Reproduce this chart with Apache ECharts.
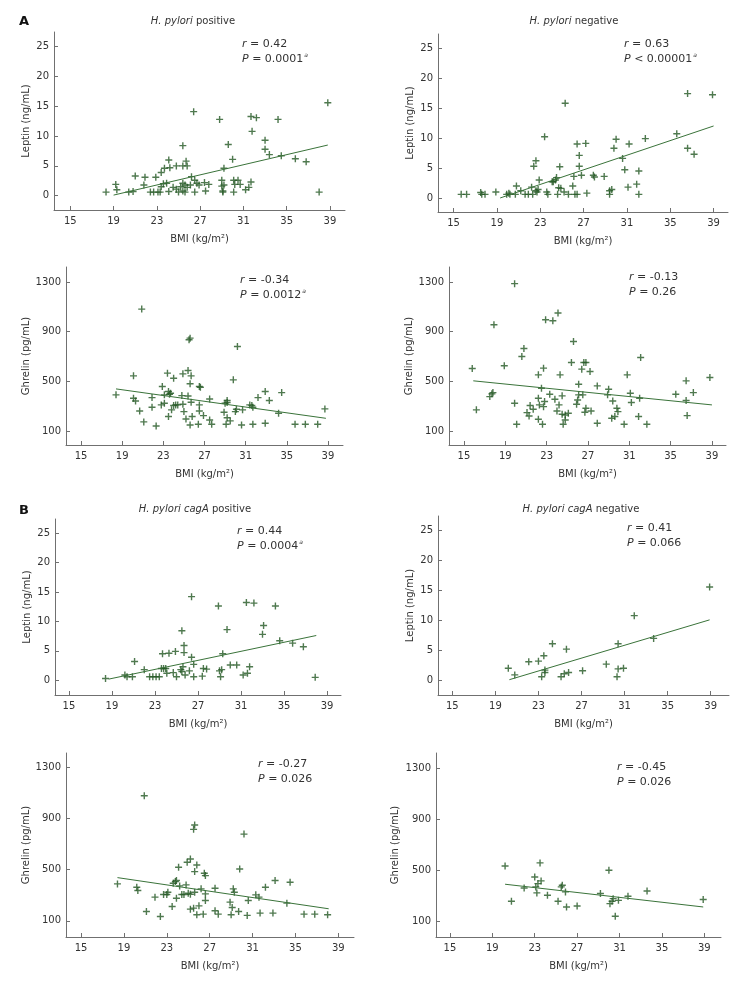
<!DOCTYPE html>
<html><head><meta charset="utf-8">
<script src="https://cdn.jsdelivr.net/npm/echarts@6/dist/echarts.min.js"></script>
<style>html,body{margin:0;padding:0;background:#fff}#c{width:752px;height:986px}</style>
</head><body><div id="c"></div>
<script>
// ---- tick labels ----
const bmiTicks = [15, 19, 23, 27, 31, 35, 39];
const leptinTicks = [0, 5, 10, 15, 20, 25];
const ghrelinTicks = [100, 500, 900, 1300];

// ---- panel texts ----
const panelTitles = ['{i|H. pylori} positive', '{i|H. pylori} negative', '', '', '{i|H. pylori cagA} positive', '{i|H. pylori cagA} negative', '', ''];
const panelLetters = ['A', 'B'];
const statR = ['0.42', '0.63', '-0.34', '-0.13', '0.44', '0.41', '-0.27', '-0.45'];
const statP = ['= 0.0001', '< 0.00001', '= 0.0012', '= 0.26', '= 0.0004', '= 0.066', '= 0.026', '= 0.026'];
const statSig = [true, true, true, false, true, false, false, false];

// ---- data: [BMI, value] ----
const p1Points = [[18.3,0.6],[20.4,0.6],[20.8,0.7],[22.4,0.6],[22.7,0.6],[23.1,0.6],[23.3,0.6],[24.1,0.7],[25.0,0.6],[25.4,0.8],[25.6,0.6],[26.5,0.6],[27.5,0.8],[29.1,0.6],[29.1,0.8],[30.1,0.6],[38.0,0.6],
 [19.2,1.9],[19.3,1.0],[21.8,1.8],[23.4,1.5],[23.6,2.0],[23.9,2.1],[24.5,1.4],[24.8,1.1],[25.2,1.5],[25.4,2.1],[25.6,1.8],[25.8,1.4],[26.1,1.8],[26.7,2.1],[26.9,1.8],[27.4,2.2],[27.8,1.9],[29.0,2.6],[29.0,1.6],[29.2,1.8],[30.1,2.6],[30.2,1.9],[30.5,2.6],[30.7,1.9],[31.2,1.0],[31.5,1.4],[31.7,2.3],
 [21.0,3.3],[21.9,3.1],[22.9,3.1],[23.4,3.9],[23.7,4.6],[24.1,6.0],[24.2,4.7],[24.8,5.0],[25.4,5.0],[25.7,5.8],[25.8,5.0],[26.2,3.2],[26.5,2.6],[29.2,4.6],[30.0,6.1],
 [25.4,8.4],[26.4,14.1],[28.8,12.8],[29.6,8.6],[31.7,13.3],[31.8,10.8],[32.2,13.1],[33.0,9.3],[33.0,7.8],[33.4,6.9],[34.2,12.8],[34.5,6.7],[35.8,6.2],[36.8,5.7],[38.8,15.6]];
const p2Points = [[15.7,0.6],[16.2,0.6],[17.5,0.9],[17.6,0.6],[17.9,0.6],[18.9,1.0],[19.9,0.6],[20.1,0.8],[20.2,0.6],[20.7,0.6],[20.8,2.0],[21.2,1.2],[21.6,0.6],[21.9,0.6],[22.2,1.8],[22.3,0.6],[22.6,1.2],[22.7,1.0],[22.8,1.4],[22.9,3.0],[22.4,5.3],[22.6,6.2],[23.4,10.2],[23.6,1.0],[23.7,0.6],[24.1,2.7],[24.2,2.7],[24.4,3.0],[24.5,3.4],[24.6,0.6],[24.7,1.7],[24.8,5.2],[24.9,1.6],[25.2,1.0],[25.3,15.8],[25.6,0.6],[26.0,2.0],[26.1,3.6],[26.2,0.6],[26.4,0.6],[26.4,9.0],[26.6,7.1],[26.6,5.3],[26.8,3.8],[27.2,9.1],[27.3,0.8],[27.9,3.8],[28.0,3.5],[28.9,3.6],[29.4,1.2],[29.4,0.6],[29.6,1.4],[29.8,8.3],[30.0,9.8],[30.6,6.6],[30.8,4.7],[31.2,9.0],[31.1,1.8],[31.9,2.3],[32.1,4.5],[32.1,0.6],[32.7,9.9],[35.6,10.7],[36.6,8.3],[36.6,17.4],[37.2,7.3],[38.9,17.2]];
const p3Points = [[18.4,391],[20.1,544],[20.1,364],[20.3,342],[20.7,261],[20.9,1082],[21.1,173],[21.9,369],[21.9,291],[22.3,140],[22.9,458],[22.8,310],[23.1,323],[23.1,391],[23.4,566],[23.5,216],[23.5,418],[23.6,396],[23.7,404],[23.8,270],[24.0,305],[24.0,525],[24.2,310],[24.4,310],[24.8,385],[24.9,315],[24.9,560],[25.0,256],[25.2,197],[25.4,382],[25.4,587],[25.5,835],[25.6,848],[25.7,544],[25.6,480],[25.6,148],[25.8,216],[25.7,331],[26.4,154],[26.5,458],[26.6,452],[26.5,310],[26.5,261],[26.9,224],[27.5,358],[27.5,189],[27.7,154],[28.9,251],[29.0,323],[29.1,154],[29.2,207],[29.2,345],[29.2,329],[29.5,181],[29.8,512],[30.0,256],[30.1,275],[30.2,781],[30.6,148],[30.7,270],[31.4,310],[31.6,305],[31.7,154],[31.7,291],[32.2,369],[32.9,162],[32.9,418],[33.3,345],[34.2,243],[34.5,409],[35.8,154],[36.8,154],[38.0,154],[38.7,278]];
const p4Points = [[15.8,603],[16.2,270],[17.5,377],[17.7,399],[17.8,409],[17.9,956],[18.9,625],[19.9,1287],[19.9,323],[20.1,154],[20.6,700],[20.8,765],[21.1,248],[21.3,221],[21.4,305],[21.7,275],[22.2,552],[22.2,364],[22.2,194],[22.3,310],[22.5,444],[22.6,154],[22.7,606],[22.8,337],[22.7,296],[22.9,996],[23.3,396],[23.6,988],[23.8,356],[24.0,261],[24.1,1050],[24.2,310],[24.3,552],[24.5,383],[24.5,235],[24.6,154],[24.8,189],[24.8,229],[25.1,243],[25.4,652],[25.6,821],[25.9,315],[26.0,350],[26.1,477],[26.1,391],[26.4,598],[26.5,391],[26.6,652],[26.7,251],[26.8,283],[26.8,652],[27.2,579],[27.3,261],[27.9,463],[27.9,162],[28.9,391],[29.0,436],[29.3,202],[29.4,342],[29.6,216],[29.8,283],[29.9,256],[30.5,154],[30.8,552],[31.1,404],[31.2,329],[31.9,216],[32.0,364],[32.1,692],[32.7,154],[35.5,396],[36.5,504],[36.5,345],[36.6,224],[37.2,409],[38.8,531]];
const p5Points = [[18.4,0.3],[20.2,0.9],[20.4,0.6],[20.9,0.6],[21.1,3.2],[22.0,1.8],[22.5,0.6],[22.8,0.6],[23.1,0.6],[23.4,0.6],[23.6,2.0],[23.7,4.5],[23.8,2.0],[24.0,2.0],[24.1,1.2],[24.3,4.6],[24.7,1.3],[24.9,4.9],[25.0,0.6],[25.4,1.8],[25.5,1.5],[25.5,8.4],[25.6,2.3],[25.7,4.7],[25.7,5.9],[25.8,0.9],[26.2,1.6],[26.4,3.9],[26.4,14.2],[26.6,0.6],[26.6,2.7],[27.4,0.7],[27.5,2.0],[27.8,1.9],[28.9,12.6],[29.0,1.6],[29.1,0.6],[29.2,1.8],[29.3,4.5],[29.7,8.6],[30.0,2.6],[30.6,2.6],[31.2,0.9],[31.5,13.2],[31.6,1.2],[31.8,2.3],[32.2,13.1],[33.0,7.8],[33.1,9.3],[34.2,12.6],[34.6,6.7],[35.8,6.3],[36.8,5.7],[37.9,0.5]];
const p6Points = [[20.2,2.0],[20.8,0.9],[22.1,3.1],[23.0,3.2],[23.3,0.6],[23.5,4.1],[23.6,1.7],[23.6,1.3],[24.3,6.1],[25.1,0.6],[25.4,1.1],[25.6,5.2],[25.8,1.3],[27.1,1.6],[29.3,2.7],[30.3,0.6],[30.4,6.1],[30.4,1.9],[30.9,2.0],[31.9,10.8],[33.7,7.0],[38.9,15.6]];
const p7Points = [[18.4,389],[20.2,363],[20.3,337],[21.1,173],[20.9,1079],[21.9,285],[22.4,134],[22.7,306],[23.0,306],[23.1,324],[23.5,212],[23.6,394],[23.8,407],[23.9,277],[23.9,415],[24.1,519],[24.2,373],[24.4,306],[24.6,306],[24.8,381],[24.9,558],[25.0,316],[25.2,191],[25.2,308],[25.2,584],[25.5,199],[25.5,816],[25.6,850],[25.6,485],[25.6,324],[25.8,537],[25.8,147],[26.0,217],[26.2,350],[26.4,152],[26.5,472],[26.6,454],[26.6,311],[26.6,259],[27.5,355],[27.5,178],[27.8,152],[28.9,246],[29.0,147],[29.1,204],[29.2,350],[29.3,324],[29.7,173],[29.8,506],[30.2,779],[30.6,259],[30.5,142],[31.3,303],[31.6,285],[31.7,160],[32.2,363],[32.9,160],[33.1,415],[34.2,238],[34.5,402],[35.8,152],[36.8,152],[38.0,147]];
const p8Points = [[20.2,533],[20.8,257],[22.0,361],[23.0,447],[23.1,369],[23.2,322],[23.3,395],[23.5,557],[23.6,416],[24.2,304],[25.2,257],[25.5,369],[25.6,382],[25.9,330],[26.0,212],[27.0,220],[29.2,317],[30.0,499],[30.1,238],[30.3,257],[30.4,277],[30.6,139],[30.9,264],[31.8,296],[33.6,337],[38.9,270]];

// ---- regression line end points ----
const p1Fit = [[19.0,0.1],[38.8,8.5]];
const p2Fit = [[19.3,0.0],[39.0,12.0]];
const p3Fit = [[18.4,439],[38.8,202]];
const p4Fit = [[15.9,504],[39.0,310]];
const p5Fit = [[18.7,0.2],[38.0,7.6]];
const p6Fit = [[20.3,0.1],[38.9,10.1]];
const p7Fit = [[18.4,438],[38.1,194]];
const p8Fit = [[20.2,390],[38.9,212]];

const allPoints = [p1Points,p2Points,p3Points,p4Points,p5Points,p6Points,p7Points,p8Points];
const allFits = [p1Fit,p2Fit,p3Fit,p4Fit,p5Fit,p6Fit,p7Fit,p8Fit];

// ---- layout (pixels) ----
const layout = [
 {l:54, t:32, w:291, h:178, x0:13.49, x1:40.39, y0:-2.40, y1:27.47, lep:true, yGap:23, xGap:24, sx:242, sy:52, tx:193, ty:21},
 {l:438, t:34, w:290, h:178, x0:13.56, x1:40.33, y0:-2.34, y1:27.34, lep:true, yGap:23, xGap:24, sx:624, sy:52, tx:574, ty:21},
 {l:66, t:267, w:277, h:178, x0:13.54, x1:40.46, y0:-13, y1:1421, lep:false, yGap:35, xGap:24, sx:240, sy:288},
 {l:449, t:267, w:277, h:178, x0:13.55, x1:40.36, y0:-13, y1:1421, lep:false, yGap:35, xGap:24, sx:629, sy:285},
 {l:55, t:519, w:286, h:176, x0:13.70, x1:40.30, y0:-2.5, y1:27.38, lep:true, yGap:23, xGap:24, sx:237, sy:539, tx:195, ty:509},
 {l:438, t:516, w:291, h:179, x0:13.67, x1:40.70, y0:-2.46, y1:27.46, lep:true, yGap:23, xGap:24, sx:627, sy:536, tx:581, ty:509},
 {l:66, t:753, w:288, h:184, x0:13.60, x1:40.46, y0:-27, y1:1414, lep:false, yGap:35, xGap:24, sx:258, sy:772},
 {l:436, t:753, w:285, h:184, x0:13.68, x1:40.58, y0:-23, y1:1417, lep:false, yGap:36, xGap:24, sx:617, sy:775}
];

const FONT = '"DejaVu Sans", Verdana, sans-serif';
const TXT = '#333';
const AX = '#707070';
const MARK = '#235823';
const LINE = '#3a733a';
const plusPath = 'path://M4,0H6V4H10V6H6V10H4V6H0V4H4Z';
const plain = v => String(v);

const grid = [], xAxis = [], yAxis = [], series = [], graphic = [];
layout.forEach((L, i) => {
  grid.push({left: L.l, top: L.t, width: L.w, height: L.h, containLabel: false});
  xAxis.push({
    type: 'value', gridIndex: i, min: L.x0, max: L.x1,
    name: 'BMI (kg/m²)', nameLocation: 'middle', nameGap: L.xGap,
    nameTextStyle: {fontFamily: FONT, fontSize: 10, color: TXT},
    axisLine: {show: true, onZero: false, lineStyle: {color: AX, width: 1}},
    axisTick: {show: true, inside: true, length: 4, customValues: bmiTicks, lineStyle: {color: AX}},
    axisLabel: {customValues: bmiTicks, formatter: plain, fontFamily: FONT, fontSize: 10, color: TXT, margin: 6},
    splitLine: {show: false}
  });
  const ticks = L.lep ? leptinTicks : ghrelinTicks;
  yAxis.push({
    type: 'value', gridIndex: i, min: L.y0, max: L.y1,
    name: L.lep ? 'Leptin (ng/mL)' : 'Ghrelin (pg/mL)', nameLocation: 'middle', nameGap: L.yGap,
    nameTextStyle: {fontFamily: FONT, fontSize: 10, color: TXT},
    axisLine: {show: true, onZero: false, lineStyle: {color: AX, width: 1}},
    axisTick: {show: true, inside: true, length: 4, customValues: ticks, lineStyle: {color: AX}},
    axisLabel: {customValues: ticks, formatter: plain, fontFamily: FONT, fontSize: 10, color: TXT, margin: 5},
    splitLine: {show: false}
  });
  series.push({
    type: 'scatter', xAxisIndex: i, yAxisIndex: i, data: allPoints[i],
    symbol: plusPath, symbolSize: 7, itemStyle: {color: MARK}, silent: true
  });
  series.push({
    type: 'line', xAxisIndex: i, yAxisIndex: i, data: allFits[i],
    symbol: 'none', lineStyle: {color: LINE, width: 1}, silent: true
  });
  if (panelTitles[i]) {
    graphic.push({type: 'text', x: L.tx, y: L.ty, style: {
      text: panelTitles[i], align: 'center', verticalAlign: 'middle',
      font: '10px ' + FONT, fill: TXT,
      rich: {i: {fontStyle: 'italic', fontFamily: FONT, fontSize: 10, fill: TXT}}
    }});
  }
  graphic.push({type: 'text', x: L.sx, y: L.sy, style: {
    text: '{i|r} = ' + statR[i] + '\n{i|P} ' + statP[i] + (statSig[i] ? '{s|a}' : ''),
    align: 'left', verticalAlign: 'middle', lineHeight: 15,
    font: '11px ' + FONT, fill: TXT,
    rich: {
      i: {fontStyle: 'italic', fontFamily: FONT, fontSize: 11, fill: TXT, lineHeight: 15},
      s: {fontStyle: 'italic', fontFamily: FONT, fontSize: 6, fill: TXT, verticalAlign: 'top', lineHeight: 15, padding: [0,0,6,1]}
    }
  }});
});
graphic.push({type: 'text', x: 24, y: 22, style: {text: panelLetters[0], align: 'center', verticalAlign: 'middle', font: 'bold 13px ' + FONT, fill: '#111'}});
graphic.push({type: 'text', x: 24, y: 511, style: {text: panelLetters[1], align: 'center', verticalAlign: 'middle', font: 'bold 13px ' + FONT, fill: '#111'}});

const chart = echarts.init(document.getElementById('c'), null, {renderer: 'canvas'});
chart.setOption({backgroundColor: '#fff', animation: false, grid, xAxis, yAxis, series, graphic});
</script></body></html>
